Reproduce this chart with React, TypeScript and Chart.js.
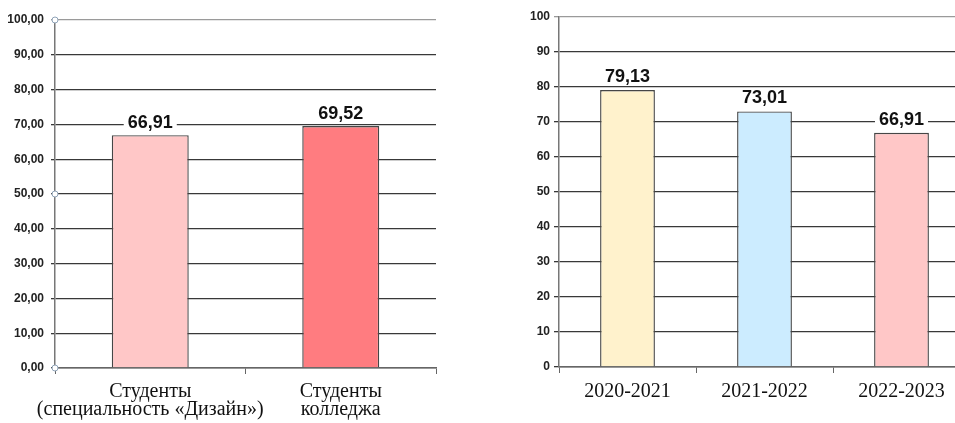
import React, { useEffect, useRef } from 'react';
import { Chart, registerables } from 'chart.js';
Chart.register(...registerables);

const leftCategories = [['Студенты', '(специальность «Дизайн»)'], ['Студенты', 'колледжа']];
const leftValues = [66.91, 69.52];
const leftValueLabels = ['66,91', '69,52'];
const leftColors = ['#FFC7C7', '#FF7C80'];
const leftTickLabels = ['0,00', '10,00', '20,00', '30,00', '40,00', '50,00', '60,00', '70,00', '80,00', '90,00', '100,00'];
const leftMarkerValues = [0, 50, 100];

const rightCategories = ['2020-2021', '2021-2022', '2022-2023'];
const rightValues = [79.13, 73.01, 66.91];
const rightValueLabels = ['79,13', '73,01', '66,91'];
const rightColors = ['#FFF2CC', '#CCECFF', '#FFC7C7'];
const rightTickLabels = ['0', '10', '20', '30', '40', '50', '60', '70', '80', '90', '100'];

const SANS = "Arial, 'Liberation Sans', sans-serif";
const SERIF = "'Times New Roman', 'Liberation Serif', serif";

const valueLabelPlugin = {
  id: 'valueLabels',
  afterDatasetsDraw(chart: any, _args: any, opts: any) {
    const labels: string[] = opts.labels || [];
    const ctx = chart.ctx;
    const meta = chart.getDatasetMeta(0);
    ctx.save();
    ctx.font = `bold ${opts.size || 18}px ${SANS}`;
    ctx.textAlign = 'center';
    ctx.textBaseline = 'middle';
    meta.data.forEach((bar: any, i: number) => {
      const t = labels[i];
      if (!t) return;
      const w = ctx.measureText(t).width;
      const cy = bar.y - (opts.offset || 14);
      ctx.fillStyle = '#ffffff';
      ctx.fillRect(bar.x - w / 2 - 4, cy - 9, w + 8, 17);
      ctx.fillStyle = '#111111';
      ctx.fillText(t, bar.x, cy + 1);
    });
    ctx.restore();
  },
};

const markerPlugin = {
  id: 'axisMarkers',
  afterDraw(chart: any, _args: any, opts: any) {
    const vals: number[] = opts.values || [];
    if (!vals.length) return;
    const ctx = chart.ctx;
    const ys = chart.scales.y;
    const x = chart.chartArea.left;
    ctx.save();
    vals.forEach((v) => {
      const y = ys.getPixelForValue(v);
      ctx.beginPath();
      ctx.arc(x, y, 3, 0, Math.PI * 2);
      ctx.fillStyle = '#ffffff';
      ctx.fill();
      ctx.strokeStyle = '#8fa3b8';
      ctx.lineWidth = 1;
      ctx.stroke();
    });
    ctx.restore();
  },
};

function BarChart(props: {
  categories: any[];
  values: number[];
  valueLabels: string[];
  colors: string[];
  tickLabels: string[];
  markers: number[];
  width: number;
  height: number;
  yWidth: number;
  xHeight: number;
  padTop: number;
  padRight: number;
  barPct: number;
  yTickLen: number;
  yPad: number;
  yFont: number;
  xPad: number;
  labelOffset: number;
}) {
  const ref = useRef<HTMLCanvasElement>(null);
  useEffect(() => {
    const p = props;
    const chart = new Chart(ref.current as HTMLCanvasElement, {
      type: 'bar',
      data: {
        labels: p.categories,
        datasets: [
          {
            data: p.values,
            backgroundColor: p.colors,
            borderColor: '#464646',
            borderWidth: 1.4,
            barPercentage: p.barPct,
            categoryPercentage: 1,
          },
        ],
      },
      options: {
        responsive: false,
        animation: false,
        devicePixelRatio: 1,
        layout: { padding: { top: p.padTop, right: p.padRight, left: 0, bottom: 0 } },
        plugins: {
          legend: { display: false },
          tooltip: { enabled: false },
          valueLabels: { labels: p.valueLabels, size: 18, offset: p.labelOffset },
          axisMarkers: { values: p.markers },
        } as any,
        scales: {
          x: {
            offset: true,
            grid: {
              offset: true,
              drawOnChartArea: false,
              drawTicks: true,
              tickLength: 6,
              color: '#666666',
            },
            border: { display: true, color: '#666666', width: 1.5 },
            ticks: {
              font: { family: SERIF, size: 20, lineHeight: 0.88 },
              color: '#111111',
              padding: p.xPad,
              maxRotation: 0,
              autoSkip: false,
            },
            afterFit: (s: any) => {
              s.height = p.xHeight;
            },
          },
          y: {
            min: 0,
            max: 100,
            grid: {
              color: (c: any) => (c.tick && c.tick.value === 100 ? '#9a9a9a' : '#383838'),
              lineWidth: 1.3,
              tickLength: p.yTickLen,
              drawTicks: true,
            },
            border: { display: true, color: '#777777', width: 1.5 },
            ticks: {
              stepSize: 10,
              font: { family: SANS, size: p.yFont, weight: 'bold' },
              color: '#222222',
              padding: p.yPad,
              callback: (_v: any, i: number) => p.tickLabels[i],
            },
            afterFit: (s: any) => {
              s.width = p.yWidth;
            },
          },
        },
      },
      plugins: [valueLabelPlugin, markerPlugin],
    });
    return () => chart.destroy();
  }, []);
  return (
    <canvas
      ref={ref}
      width={props.width}
      height={props.height}
      style={{ width: props.width, height: props.height, display: 'block' }}
    />
  );
}

export default function App() {
  return (
    <div
      style={{
        position: 'fixed',
        left: 0,
        top: 0,
        width: 955,
        height: 423,
        overflow: 'hidden',
        background: '#ffffff',
      }}
    >
      <div style={{ position: 'absolute', left: 0, top: 0 }}>
        <BarChart
          categories={leftCategories}
          values={leftValues}
          valueLabels={leftValueLabels}
          colors={leftColors}
          tickLabels={leftTickLabels}
          markers={leftMarkerValues}
          width={450}
          height={423}
          yWidth={55}
          xHeight={55}
          padTop={20}
          padRight={14}
          barPct={0.404}
          yTickLen={4}
          yPad={7}
          yFont={12}
          xPad={9}
          labelOffset={13}
        />
      </div>
      <div style={{ position: 'absolute', left: 500, top: 0 }}>
        <BarChart
          categories={rightCategories}
          values={rightValues}
          valueLabels={rightValueLabels}
          colors={rightColors}
          tickLabels={rightTickLabels}
          markers={[]}
          width={480}
          height={423}
          yWidth={59}
          xHeight={56}
          padTop={17}
          padRight={10}
          barPct={0.4}
          yTickLen={5}
          yPad={4}
          yFont={12}
          xPad={10}
          labelOffset={14}
        />
      </div>
    </div>
  );
}
